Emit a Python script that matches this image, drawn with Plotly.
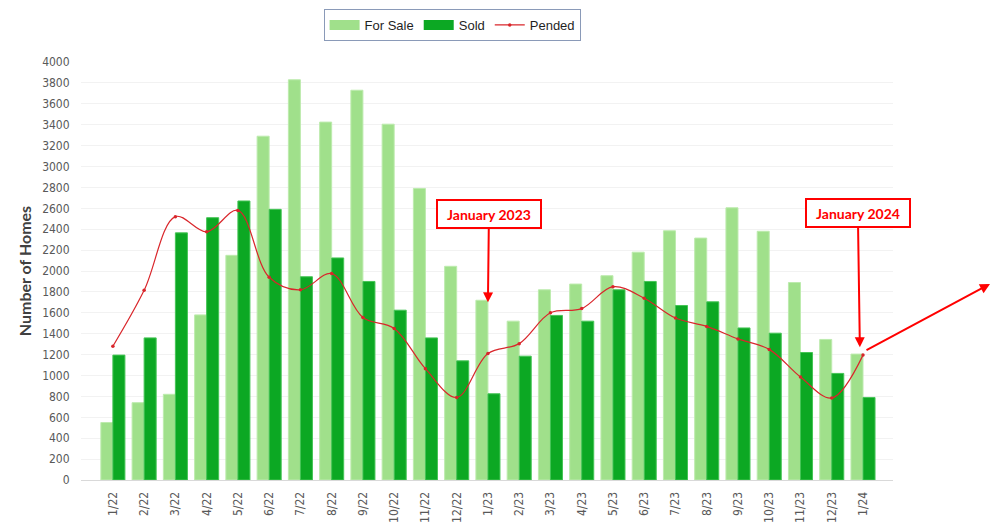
import plotly.graph_objects as go

months = ["1/22", "2/22", "3/22", "4/22", "5/22", "6/22", "7/22", "8/22", "9/22", "10/22",
          "11/22", "12/22", "1/23", "2/23", "3/23", "4/23", "5/23", "6/23", "7/23", "8/23",
          "9/23", "10/23", "11/23", "12/23", "1/24"]
for_sale = [550, 740, 820, 1580, 2150, 3290, 3830, 3425, 3730, 3405, 2790, 2045, 1720,
            1520, 1820, 1875, 1955, 2180, 2385, 2315, 2605, 2380, 1890, 1345, 1205]
sold = [1195, 1360, 2365, 2510, 2670, 2590, 1945, 2125, 1900, 1625, 1360, 1140, 825,
        1185, 1575, 1520, 1820, 1900, 1670, 1705, 1455, 1405, 1220, 1020, 790]
pended = [1280, 1815, 2520, 2375, 2580, 1940, 1820, 1975, 1555, 1450, 1065, 790, 1210,
          1305, 1600, 1640, 1850, 1740, 1550, 1470, 1350, 1250, 985, 785, 1195]
y_ticks = list(range(0, 4001, 200))

FS_COLOR = "#A0E08B"
SOLD_COLOR = "#0CA823"
PEND_COLOR = "#D9262B"

tick_font = dict(family="Liberation Sans Narrow, DejaVu Sans Condensed, Arial", size=12, color="#595959")
ann_font = dict(family="Lato, Open Sans, Arial", size=14, color="#FF0000")

fig = go.Figure()
fig.add_trace(go.Bar(x=months, y=for_sale, name="For Sale", showlegend=False,
                     marker=dict(color=FS_COLOR, line=dict(color="#BDEBAE", width=1))))
fig.add_trace(go.Bar(x=months, y=sold, name="Sold", showlegend=False,
                     marker=dict(color=SOLD_COLOR, line=dict(color="#45C455", width=1))))
fig.add_trace(go.Scatter(x=months, y=pended, name="Pended", mode="lines+markers", showlegend=False,
                         line=dict(color=PEND_COLOR, width=1.2, shape="spline", smoothing=1),
                         marker=dict(color=PEND_COLOR, size=3.5)))

# legend entries (wide swatches like the reference)
fig.add_trace(go.Scatter(x=[None], y=[None], name="For Sale", mode="lines",
                         line=dict(color=FS_COLOR, width=10)))
fig.add_trace(go.Scatter(x=[None], y=[None], name="Sold", mode="lines",
                         line=dict(color=SOLD_COLOR, width=10)))
fig.add_trace(go.Scatter(x=[None], y=[None], name="Pended", mode="lines+markers",
                         line=dict(color=PEND_COLOR, width=1.2), marker=dict(color=PEND_COLOR, size=3.5)))

fig.add_annotation(x=12, y=1700, xref="x", yref="y", text="<b>January 2023</b>",
                   showarrow=True, ax=1, ay=-88, axref="pixel", ayref="pixel",
                   arrowhead=2, arrowsize=1, arrowwidth=2, arrowcolor="#FF0000",
                   font=ann_font, bordercolor="#FF0000", borderwidth=2, borderpad=2,
                   bgcolor="white", width=98, height=22)
fig.add_annotation(x=23.9, y=1270, xref="x", yref="y", text="<b>January 2024</b>",
                   showarrow=True, ax=-2, ay=-134, axref="pixel", ayref="pixel",
                   arrowhead=2, arrowsize=1, arrowwidth=2, arrowcolor="#FF0000",
                   font=ann_font, bordercolor="#FF0000", borderwidth=2, borderpad=2,
                   bgcolor="white", width=98, height=22)
fig.add_annotation(x=(990 - 81) / 812, y=(480 - 284) / 418, xref="paper", yref="paper",
                   text="", showarrow=True, ax=-125, ay=67, axref="pixel", ayref="pixel",
                   arrowhead=2, arrowsize=1, arrowwidth=2, arrowcolor="#FF0000")

fig.add_shape(type="rect", xref="paper", yref="paper", layer="above",
              x0=(994 - 81) / 812, x1=(996 - 81) / 812,
              y0=(480 - 524) / 418, y1=(480 - 9) / 418,
              fillcolor="#BDBDBD", line=dict(width=0))

fig.update_layout(
    width=992, height=517,
    margin=dict(l=73, r=107, t=54, b=45, autoexpand=False),
    paper_bgcolor="white", plot_bgcolor="white",
    barmode="group", bargap=0.23, bargroupgap=0,
    legend=dict(orientation="h", x=0.457, xanchor="center", y=(480 - 9) / 418, yanchor="top",
                bordercolor="#8A9AB8", borderwidth=1, bgcolor="white",
                font=dict(family="Liberation Sans, Arial", size=13, color="#1F1F1F"),
                itemwidth=30, tracegroupgap=0),
    xaxis=dict(type="category", range=[-1.02, 24.96], showgrid=False, automargin=False,
               showline=True, linecolor="#D9D9D9", linewidth=1,
               tickangle=-90, tickfont=tick_font, ticks="outside", ticklen=6,
               tickcolor="rgba(0,0,0,0)"),
    yaxis=dict(range=[0, 4000], tickvals=y_ticks, showgrid=True, gridcolor="#F2F2F2",
               gridwidth=1, zeroline=False, showline=False, tickfont=tick_font, automargin=False,
               ticks="outside", ticklen=8, tickcolor="rgba(0,0,0,0)",
               title=dict(text="<b>Number of Homes</b>", standoff=6,
                          font=dict(family="Lato, Open Sans, Arial", size=16, color="#404040"))),
    showlegend=True,
)

fig.write_html("out.html")
